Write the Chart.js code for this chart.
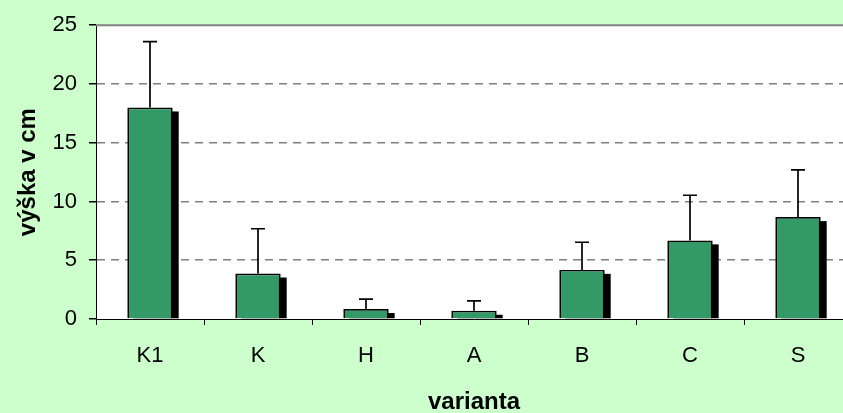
<!DOCTYPE html>
<html>
<head>
<meta charset="utf-8">
<script src="https://cdn.jsdelivr.net/npm/chart.js@4"></script>
<style>
  html, body { margin: 0; padding: 0; overflow: hidden; background: #CCFFCC; }
  #wrap { width: 870px; height: 420px; }
</style>
</head>
<body>
<div id="wrap"><canvas id="vyskaChart"></canvas></div>
<script>
// Data
const varianty = ['K1', 'K', 'H', 'A', 'B', 'C', 'S'];
const vyska = [18.0, 3.87, 0.85, 0.7, 4.18, 6.69, 8.67];
const smerodatna = [5.6, 3.81, 0.84, 0.85, 2.35, 3.84, 4.02];
const yTicks = [0, 5, 10, 15, 20, 25];

const FONT = "'Liberation Sans', Arial, sans-serif";

// bílé pozadí plochy grafu + horní šedá čára
const plotBg = {
    id: 'plotBg',
    beforeDraw(chart) {
        const { ctx, chartArea: a } = chart;
        ctx.save();
        ctx.fillStyle = '#ffffff';
        ctx.fillRect(a.left, a.top, a.right - a.left, a.bottom - a.top);
        ctx.restore();
    },
    afterDraw(chart) {
        const { ctx, chartArea: a } = chart;
        ctx.save();
        ctx.strokeStyle = '#808080';
        ctx.lineWidth = 2;
        ctx.beginPath();
        ctx.moveTo(a.left, a.top);
        ctx.lineTo(a.right, a.top);
        ctx.stroke();
        ctx.restore();
    }
};

// stín sloupců + chybové úsečky
const barExtras = {
    id: 'barExtras',
    beforeDatasetsDraw(chart) {
        const { ctx } = chart;
        const meta = chart.getDatasetMeta(0);
        ctx.save();
        ctx.fillStyle = '#000000';
        meta.data.forEach(bar => {
            const p = bar.getProps(['x', 'y', 'base', 'width'], true);
            const top = p.y + 4;
            if (p.base > top) ctx.fillRect(p.x - p.width / 2 + 6, top, p.width, p.base - top);
        });
        ctx.restore();
    },
    afterDatasetsDraw(chart) {
        const { ctx, scales: { y } } = chart;
        const meta = chart.getDatasetMeta(0);
        ctx.save();
        ctx.strokeStyle = '#000000';
        ctx.lineWidth = 1.7;
        meta.data.forEach((bar, i) => {
            const p = bar.getProps(['x', 'y'], true);
            const yTop = y.getPixelForValue(vyska[i] + smerodatna[i]);
            ctx.beginPath();
            ctx.moveTo(p.x, p.y);
            ctx.lineTo(p.x, yTop);
            ctx.moveTo(p.x - 7, yTop);
            ctx.lineTo(p.x + 7, yTop);
            ctx.stroke();
        });
        ctx.restore();
    }
};

const ctx = document.getElementById('vyskaChart').getContext('2d');
new Chart(ctx, {
    type: 'bar',
    data: {
        labels: varianty,
        datasets: [{
            label: 'výška',
            data: vyska,
            backgroundColor: '#339966',
            borderColor: '#000000',
            borderWidth: 1.7,
            categoryPercentage: 1,
            barPercentage: 0.42
        }]
    },
    options: {
        responsive: true,
        maintainAspectRatio: false,
        animation: false,
        layout: { padding: { top: 24, right: 18, left: 0, bottom: 0 } },
        plugins: { legend: { display: false }, tooltip: { enabled: false } },
        scales: {
            x: {
                afterFit(scale) { scale.height = 101; },
                grid: { display: true, drawOnChartArea: false, offset: true, tickLength: 6, tickColor: '#000000' },
                border: { display: true, color: '#000000', width: 1 },
                ticks: { color: '#000000', font: { family: FONT, size: 22 }, padding: 18, maxRotation: 0 },
                title: { display: true, text: 'varianta', color: '#000000', font: { family: FONT, size: 24, weight: 'bold' }, padding: { bottom: 3.5 } }
            },
            y: {
                min: 0,
                max: 25,
                afterFit(scale) { scale.width = 96; },
                afterBuildTicks(scale) { scale.ticks = yTicks.map(v => ({ value: v })); },
                grid: {
                    color: c => (c.tick && (c.tick.value === 0 || c.tick.value === 25)) ? 'rgba(0,0,0,0)' : '#808080',
                    lineWidth: 1.5,
                    tickLength: 7,
                    tickColor: '#000000',
                    tickBorderDash: []
                },
                border: { display: true, color: '#000000', width: 1, dash: [8, 6] },
                ticks: { color: '#000000', font: { family: FONT, size: 22 }, padding: 12 },
                title: { display: true, text: 'výška v cm', color: '#000000', font: { family: FONT, size: 24, weight: 'bold' }, padding: { top: 14 } }
            }
        }
    },
    plugins: [plotBg, barExtras]
});
</script>
</body>
</html>
